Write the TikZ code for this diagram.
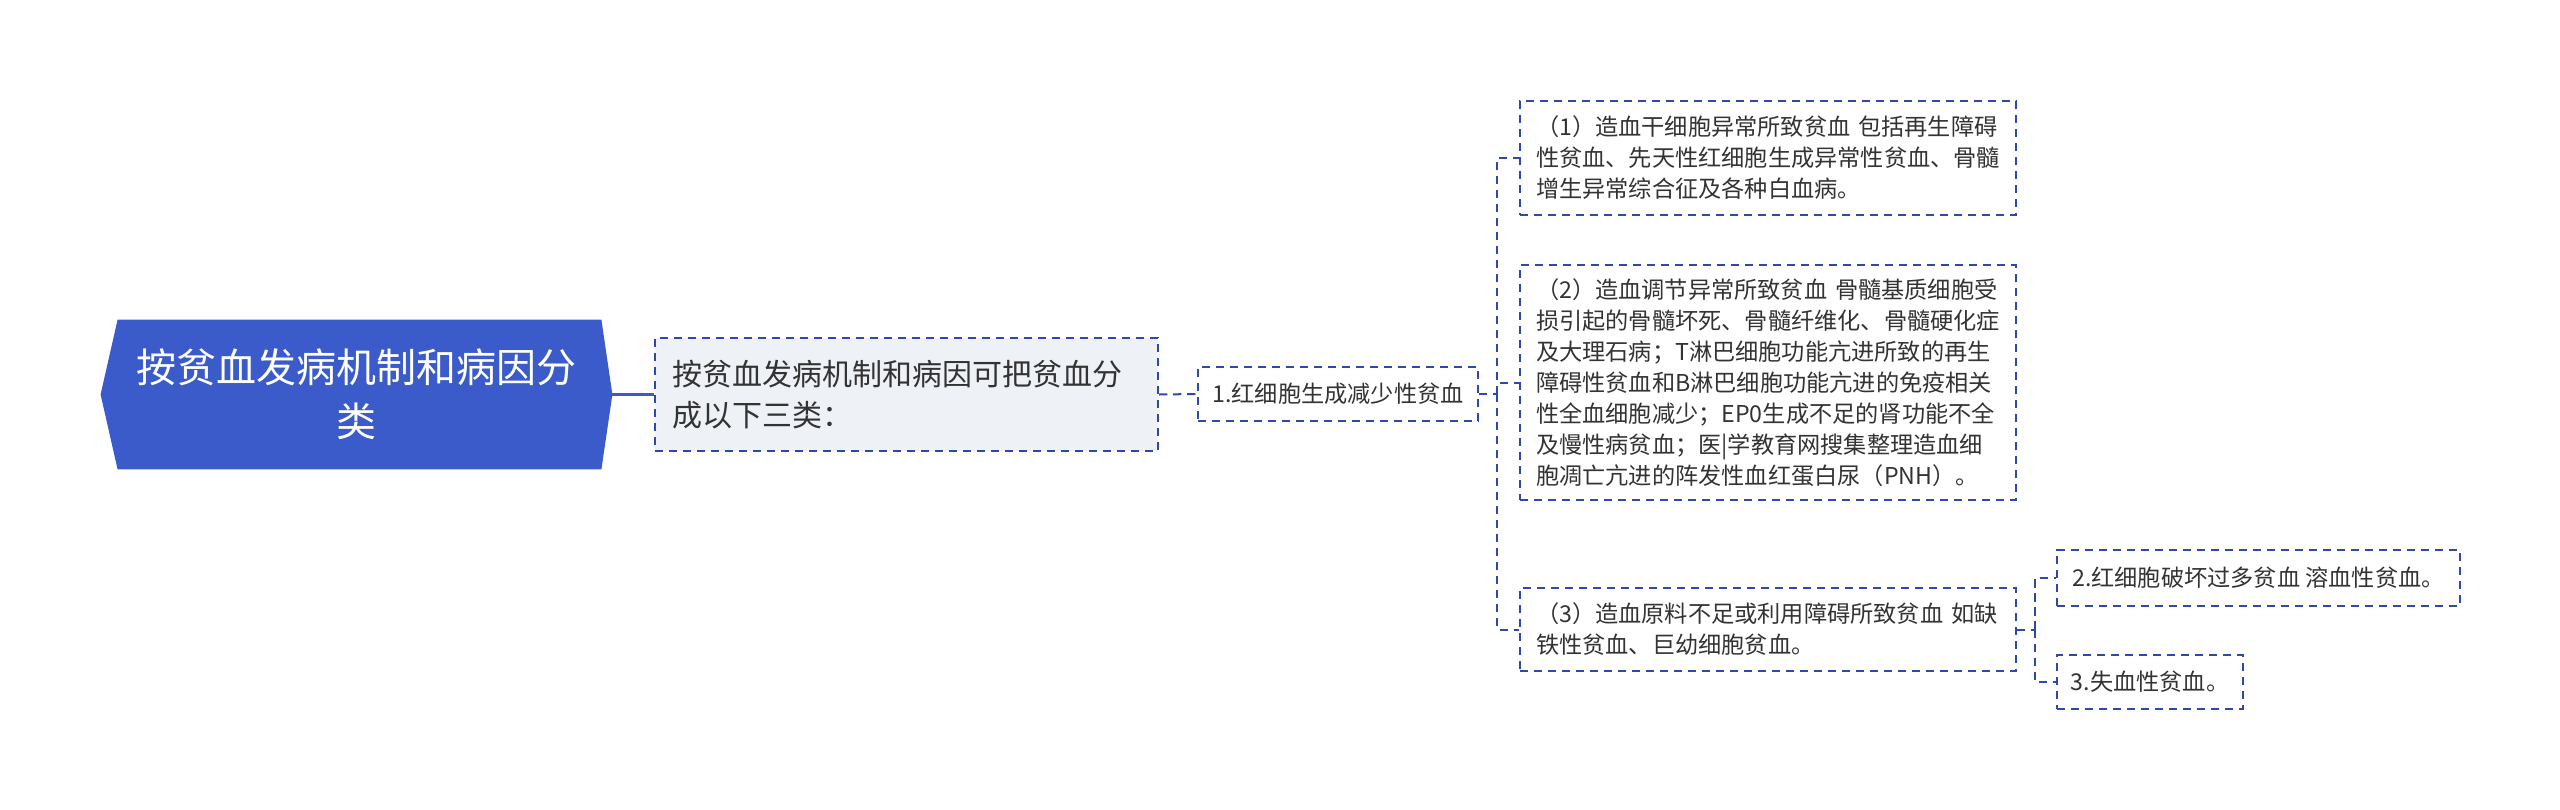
\documentclass[tikz,border=0pt]{standalone}
\usepackage{fontspec}
\setmainfont{Noto Sans CJK SC}
\usetikzlibrary{backgrounds}
\definecolor{rootblue}{HTML}{3A5BC9}
\definecolor{edgeblue}{HTML}{2E4AA6}
\definecolor{paleblue}{HTML}{EEF2F7}
\definecolor{inkgray}{HTML}{333333}
\begin{document}
\begin{tikzpicture}[x=0.5pt,y=-0.5pt,
        box/.style = {draw=edgeblue,line width=1pt,dash pattern=on 4.2pt off 2.8pt,
                      fill=white,anchor=west,text=inkgray,inner ysep=3pt},
        wide/.style = {box,text width=232pt,inner xsep=8pt,align=left,
                       minimum width=248pt,font=\fontsize{11.6pt}{15.5pt}\selectfont},
        small/.style = {box,align=left,inner xsep=6pt,
                        font=\fontsize{11.6pt}{15.5pt}\selectfont},
        link/.style = {draw=rootblue,line width=1.5pt},
        dlink/.style = {draw=edgeblue,line width=1pt,dash pattern=on 4.2pt off 2.8pt}]
    \useasboundingbox (0,0) rectangle (2560,809);

    % main topic
    \node[minimum width=255.5pt,minimum height=74.5pt,align=center,text=white,
          font=\fontsize{20pt}{27pt}\selectfont] (root) at (356.5,394.5)
        {按贫血发病机制和病因分\\类};
    \begin{scope}[on background layer]
        \fill[rootblue] (root.west) -- ([xshift=8.5pt]root.north west)
            -- ([xshift=-5.5pt]root.north east) -- (root.east)
            -- ([xshift=-5.5pt]root.south east) -- ([xshift=8.5pt]root.south west) -- cycle;
    \end{scope}

    \node[box,fill=paleblue,text width=234.5pt,inner xsep=8.5pt,align=left,
          minimum height=56.5pt,font=\fontsize{15pt}{20.5pt}\selectfont]
        (why) at (654,394.5) {按贫血发病机制和病因可把贫血分\\成以下三类：};

    \node[small,minimum width=140pt,minimum height=27pt] (n1) at (1197,394)
        {1.红细胞生成减少性贫血};

    % subtopics of 1.
    \node[wide,minimum height=57pt] (c1) at (1519,158)
        {（1）造血干细胞异常所致贫血 包括再生障碍\\
         性贫血、先天性红细胞生成异常性贫血、骨髓\\
         增生异常综合征及各种白血病。};
    \node[wide,minimum height=117.5pt] (c2) at (1519,382.5)
        {（2）造血调节异常所致贫血 骨髓基质细胞受\\
         损引起的骨髓坏死、骨髓纤维化、骨髓硬化症\\
         及大理石病；T淋巴细胞功能亢进所致的再生\\
         障碍性贫血和B淋巴细胞功能亢进的免疫相关\\
         性全血细胞减少；EP0生成不足的肾功能不全\\
         及慢性病贫血；医|学教育网搜集整理造血细\\
         胞凋亡亢进的阵发性血红蛋白尿（PNH）。};
    \node[wide,minimum height=41.5pt] (c3) at (1519,629.5)
        {（3）造血原料不足或利用障碍所致贫血 如缺\\
         铁性贫血、巨幼细胞贫血。};

    \node[small,minimum width=201.5pt,minimum height=28pt] (d1) at (2056,578)
        {2.红细胞破坏过多贫血 溶血性贫血。};
    \node[small,minimum width=93pt,minimum height=27pt] (d2) at (2056,682)
        {3.失血性贫血。};

    % connectors
    \coordinate (j1) at (1497,394);
    \coordinate (j2) at (2035,629.5);
    \draw[link] (root.east) -- (why.west);
    \draw[dlink] (why.east) -- (n1.west);
    \draw[dlink] (n1.east) -- (j1);
    \draw[dlink] (j1) |- (c1.west);
    \draw[dlink] (j1) |- (c2.west);
    \draw[dlink] (j1) |- (c3.west);
    \draw[dlink] (c3.east) -- (j2);
    \draw[dlink] (j2) |- (d1.west);
    \draw[dlink] (j2) |- (d2.west);
\end{tikzpicture}
\end{document}
